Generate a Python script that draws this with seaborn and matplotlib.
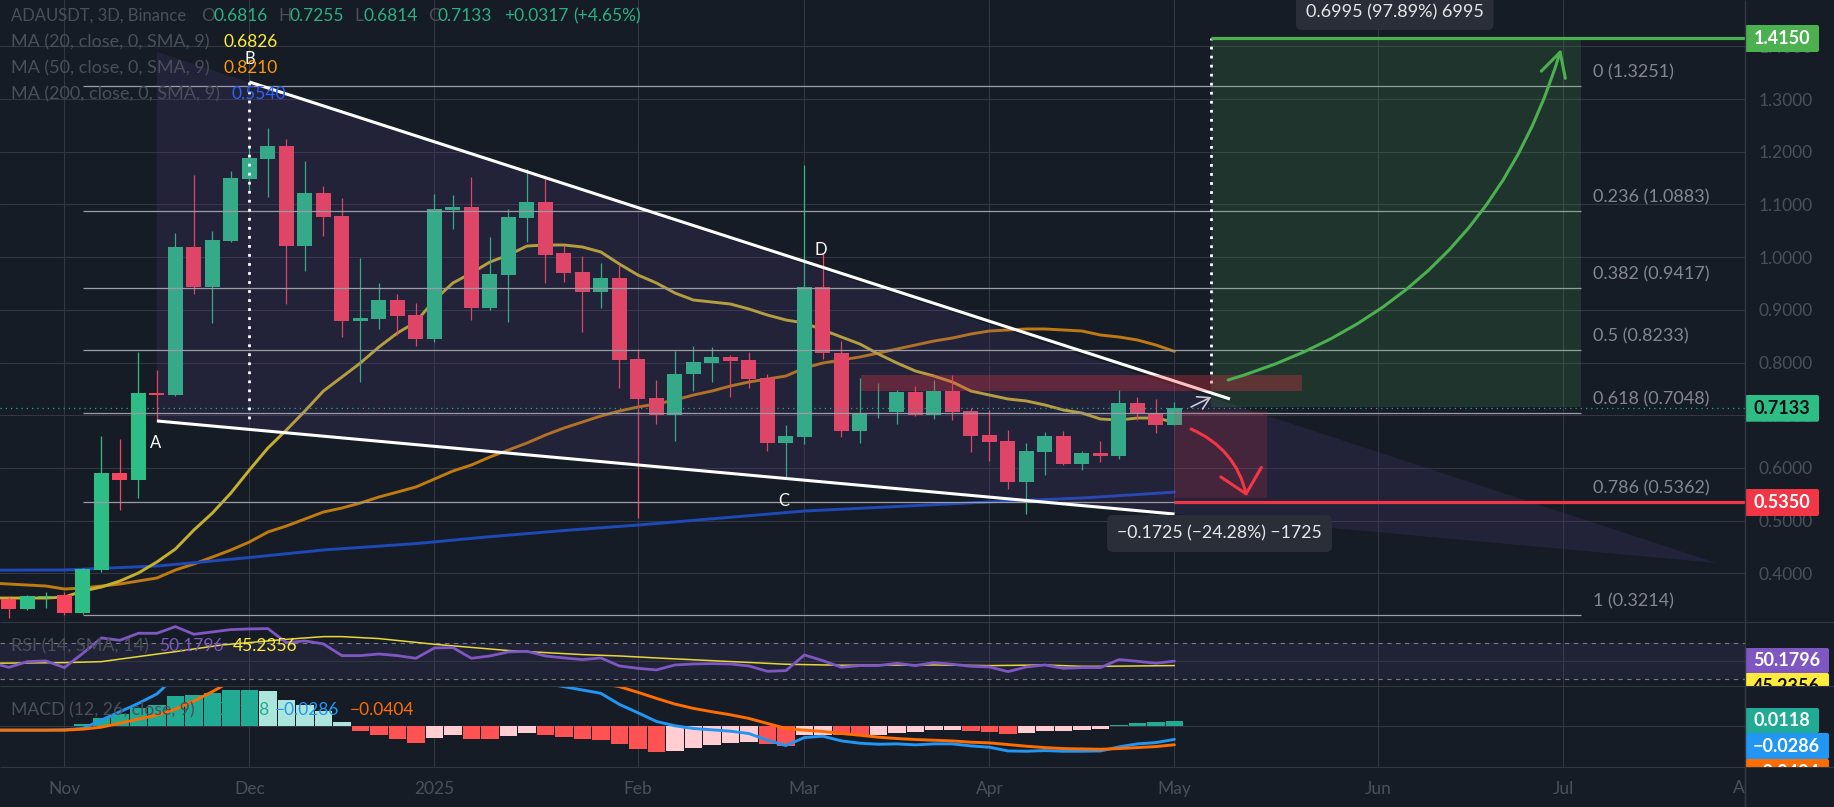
import numpy as np
import pandas as pd
import matplotlib
matplotlib.use("Agg")
import matplotlib.pyplot as plt
from matplotlib.patches import Rectangle, FancyBboxPatch
import seaborn as sns

# Candles, bar 0 is the first 3D bar of November
bars = list(range(-4, 61))
opens = [.3600, .3512, .3322, .3555, .3588, .3247, .4063, .5903, .5770, .7422, .7383,
         1.0192, .9433, 1.0306, 1.1481, 1.1862, 1.2108, 1.0211, 1.1216, 1.0780,
         .8793, .8826, .9186, .8901, .8446, 1.0894, 1.0951, .9034, .9661, 1.0742,
         1.1046, 1.0078, .9717, .9338, .9604, .8067, .7326, .7006, .7782, .7990,
         .8105, .8048, .7706, .6473, .6587, .9433, .8180, .6700, .7023, .7061,
         .7440, .7006, .7459, .7080, .6625, .6511, .5733, .6302, .6606, .6074,
         .6283, .6226, .7232, .7042, .6816]
highs = [.3660, .3556, .3590, .3646, .3645, .4100, .6605, .6548, .8199, .7858, 1.0457,
         1.1558, 1.0495, 1.1634, 1.2089, 1.2450, 1.2241, 1.1824, 1.1349, 1.1122, .9989,
         .9509, .9300, .9129, 1.1197, 1.1178, 1.1520, 1.0382, 1.0913, 1.1666, 1.1539,
         1.0230, 1.0021, .9888, .9850, .8256, .7668, .8218, .8313, .8295, .8143,
         .8199, .7782, .6814, 1.1747, 1.0078, .8408, .7706, .7611, .7478, .7554,
         .7668, .7763, .7137, .7099, .6719, .6473, .6682, .6700, .6321, .6511,
         .7478, .7345, .7308, .7255]
lows = [.3450, .3157, .3304, .3342, .3209, .3235, .4025, .5207, .5429, .6909, .7365,
        .9306, .8755, 1.0287, 1.1273, 1.1141, .9110, .9736, 1.0400, .8489, .7636,
        .8636, .8522, .8313, .8389, 1.0533, .8806, .9000, .8769, 1.0287, .9509,
        .9528, .8579, .9034, .7516, .5049, .6833, .6511, .7459, .7630, .7345,
        .7516, .6321, .5827, .6454, .8067, .6587, .6473, .6947, .6833, .6985,
        .6928, .6909, .6302, .6131, .5606, .5131, .5865, .6055, .5960, .6112,
        .6169, .6909, .6662, .6814]
closes = [.3512, .3322, .3570, .3575, .3247, .4082, .5903, .5770, .7422, .7383, 1.0192,
          .9433, 1.0325, 1.1501, 1.1880, 1.2108, 1.0211, 1.1216, 1.0761, .8788, .8845,
          .9186, .8882, .8446, 1.0913, 1.0951, .9034, .9679, 1.0761, 1.1046, 1.0040,
          .9698, .9338, .9604, .8048, .7308, .7006, .7782, .8010, .8105, .8029,
          .7687, .6473, .6606, .9433, .8180, .6700, .7042, .7042, .7440, .7006,
          .7459, .7061, .6606, .6492, .5733, .6321, .6606, .6074, .6283, .6226,
          .7232, .7023, .6814, .7133]

# Moving averages
ma20 = [.3531, .3531, .3531, .3531, .3550, .3664, .3740, .3854, .4006, .4215, .4461,
        .4822, .5144, .5524, .5960, .6378, .6719, .7080, .7459, .7725, .7991,
        .8294, .8560, .8769, .9186, .9509, .9698, .9907, 1.0040, 1.0210, 1.0230,
        1.0230, 1.0192, 1.0097, .9869, .9660, .9509, .9319, .9186, .9148, .9110,
        .9015, .8901, .8807, .8750, .8617, .8484, .8351, .8161, .7991, .7839,
        .7744, .7630, .7459, .7383, .7308, .7270, .7194, .7099, .7042, .6928,
        .6909, .6947, .6947, .6870]
ma50 = [.3816, .3797, .3778, .3759, .3702, .3721, .3759, .3797, .3854, .3911, .4063,
        .4177, .4309, .4442, .4594, .4784, .4898, .5030, .5163, .5239, .5334,
        .5448, .5542, .5638, .5789, .5941, .6055, .6207, .6340, .6472, .6624,
        .6757, .6871, .6985, .7080, .7156, .7213, .7288, .7383, .7459, .7554,
        .7630, .7687, .7744, .7896, .7991, .8048, .8105, .8180, .8256, .8332,
        .8408, .8465, .8541, .8598, .8617, .8636, .8636, .8617, .8598, .8522,
        .8484, .8427, .8332, .8210]
ma200_bars = [-4, 0, 5, 7, 10, 14, 19, 23, 27, 31, 40, 50, 55, 60]
ma200 = [.4060, .4063, .4139, .4201, .4300, .4443, .4564, .4695, .4812, .4916, .5182, .5354, .5429, .5540]

# RSI pane
rsi = [48.5, 43.3, 49.6, 50.4, 43.0, 58.9, 75.9, 73.3, 81.1, 81.1, 88.5,
       80.0, 82.6, 85.2, 85.9, 86.3, 70.7, 72.6, 69.3, 56.3, 56.3,
       58.1, 56.3, 53.3, 64.8, 65.2, 53.3, 55.9, 60.4, 61.1, 55.9,
       53.7, 51.9, 53.7, 44.8, 42.2, 40.4, 45.9, 47.0, 47.4, 47.0,
       44.8, 38.9, 39.6, 57.0, 50.7, 43.3, 45.2, 45.2, 47.8, 45.2,
       48.5, 46.7, 44.4, 43.7, 38.5, 43.7, 45.9, 42.2, 43.0, 43.0,
       51.9, 50.0, 47.8, 50.18]
rsi_ma_bars = [-4, 0, 2, 4, 6, 8.5, 12, 14, 15, 17, 20, 24, 28, 30, 32, 35, 39, 42, 47, 50, 53, 55, 56, 60]
rsi_ma = [47.8, 48.5, 49.6, 55.2, 60.7, 68.1, 74.4, 77.4, 77.4, 75.2, 68.9, 61.9,
          57.4, 55.9, 53.7, 50.7, 46.7, 45.6, 45.9, 45.2, 45.9, 44.4, 44.4, 45.24]

# MACD pane
hist = [.0012, .0012, .0012, .0012, .0012, .0052, .0178, .0274, .0407, .0474, .0674,
        .0696, .0748, .0807, .0807, .0785, .0585, .0474, .0341, .0096, -.0104,
        -.0193, -.0281, -.0370, -.0259, -.0193, -.0281, -.0281, -.0215, -.0148, -.0193,
        -.0237, -.0281, -.0304, -.0385, -.0504, -.0570, -.0548, -.0481, -.0415, -.0370,
        -.0348, -.0393, -.0437, -.0193, -.0193, -.0193, -.0193, -.0193, -.0148, -.0126,
        -.0081, -.0081, -.0104, -.0126, -.0170, -.0148, -.0104, -.0104, -.0081, -.0059,
        .0030, .0074, .0096, .0118]
hist_state = list("lllll" + "gggggggggg" + "lllll" + "rrrr" + "pp" + "rr" + "pp" + "rrrrrrr"
                  + "ppppp" + "rr" + "pp" + "rr" + "pppp" + "p" + "rrr" + "ppppp" + "gggg")
macd_line = [-.0081, -.0081, -.0081, -.0081, -.0074, -.0044, .0141, .0326, .0511, .0719, .1104,
             .1400, .1650, .1850, .2000, .2100, .2000, .1850, .1700, .1550, .1400,
             .1300, .1200, .1100, .1100, .1150, .1100, .1050, .1050, .1000, .0950,
             .0881, .0807, .0733, .0489, .0304, .0111, .0015, -.0044, -.0074, -.0104,
             -.0156, -.0304, -.0422, -.0244, -.0215, -.0319, -.0370, -.0393, -.0385, -.0407,
             -.0385, -.0385, -.0430, -.0459, -.0541, -.0548, -.0533, -.0548, -.0548, -.0541,
             -.0452, -.0385, -.0356, -.0286]
macd_signal = [-.0081, -.0081, -.0081, -.0081, -.0081, -.0059, -.0015, .0074, .0163, .0252, .0385,
               .0563, .0770, .1000, .1200, .1400, .1500, .1550, .1600, .1550, .1500,
               .1450, .1400, .1350, .1300, .1250, .1200, .1150, .1100, .1050, .1000,
               .1000, .0980, .0950, .0881, .0756, .0622, .0496, .0400, .0326, .0259,
               .0178, .0067, -.0044, -.0081, -.0111, -.0156, -.0193, -.0237, -.0267, -.0289,
               -.0304, -.0319, -.0348, -.0363, -.0400, -.0437, -.0467, -.0489, -.0496, -.0504,
               -.0489, -.0467, -.0444, -.0404]

# Drawings
fib_levels = [0, .236, .382, .5, .618, .786, 1]
fib_prices = [1.3251, 1.0883, .9417, .8233, .7048, .5362, .3214]
wedge_bars = [5, 89.3, 5]
wedge_prices = [1.3892, .4196, .6891]
upper_bars, upper_prices = [10, 63], [1.3323, .7308]
lower_bars, lower_prices = [5, 60], [.6891, .5125]
target_price, stop_price, entry_price = 1.4150, .5350, .7155
price_ticks = [1.4, 1.3, 1.2, 1.1, 1.0, .9, .8, .7, .6, .5, .4]
month_bars = [0, 10, 20, 31, 40, 50, 60, 71, 81]
month_names = ["Nov", "Dec", "2025", "Feb", "Mar", "Apr", "May", "Jun", "Jul"]

BG = "#161C26"
GRID = "#333743"
DIM = "#4B4F5A"
FIB = "#9C9CA6"
UP = "#2EBD85"
DOWN = "#F6465D"
W, H = 1834, 807
RIGHT = 1745

sns.set_theme(style="dark", rc={"axes.facecolor": BG, "figure.facecolor": BG})
plt.rcParams["font.family"] = ["Lato", "DejaVu Sans"]


def pane(top, bottom):
    a = fig.add_axes([0, 1 - bottom / H, RIGHT / W, (bottom - top) / H])
    a.set_xlim(-3.481, 90.84)
    for s in a.spines.values():
        s.set_visible(False)
    a.tick_params(length=0)
    a.set_xticks(month_bars)
    a.set_xticklabels([])
    for m in month_bars:
        a.axvline(m, color=GRID, lw=0.8, zorder=1)
    return a


fig = plt.figure(figsize=(W / 100, H / 100), dpi=100)
ax = pane(0, 622.3)
ax_rsi = pane(622.3, 686.3)
ax_macd = pane(686.3, 767.3)

# Price pane
candles = pd.DataFrame({"bar": bars, "o": opens, "h": highs, "l": lows, "c": closes})
colors = [UP if c >= o else DOWN for o, c in zip(candles.o, candles.c)]
for p in price_ticks:
    ax.axhline(p, color=GRID, lw=0.8, zorder=1)
sns.lineplot(x=bars, y=ma50, ax=ax, color="#C07A12", lw=2.1, zorder=2)
sns.lineplot(x=ma200_bars, y=ma200, ax=ax, color="#2049B8", lw=2.1, zorder=2)
sns.lineplot(x=bars, y=ma20, ax=ax, color="#C4B02E", lw=2.1, zorder=2)
ax.vlines(candles.bar, candles.l, candles.h, colors=colors, lw=0.9, zorder=3)
ax.bar(candles.bar, np.maximum((candles.c - candles.o).abs(), .002), bottom=candles[["o", "c"]].min(axis=1),
       width=.81, color=colors, lw=0, zorder=3)
ax.fill(wedge_bars, wedge_prices, color="#6242A0", alpha=.16, lw=0, zorder=4)
for lev, p in zip(fib_levels, fib_prices):
    ax.hlines(p, 1, 82, color=FIB, lw=0.9, zorder=5)
    ax.annotate(f"{lev} ({p:.4f})", (82.6, p), xytext=(0, 9.8), textcoords="offset points",
                color="#84868F", fontsize=13, va="center")
ax.add_patch(Rectangle((62, entry_price), 20, target_price - entry_price, color="#4CAF50", alpha=.17, lw=0, zorder=5))
ax.add_patch(Rectangle((60, stop_price + .0086), 5, entry_price - .008 - stop_price - .0086,
                       color="#F23645", alpha=.17, lw=0, zorder=5))
ax.add_patch(Rectangle((43.06, .7459), 23.84, .0295, color="#F23645", alpha=.3, lw=0, zorder=7))
ax.plot(upper_bars, upper_prices, color="white", lw=2.2, zorder=6, solid_capstyle="butt")
ax.plot(lower_bars, lower_prices, color="white", lw=2.2, zorder=6, solid_capstyle="butt")
ax.plot([10, 10], [1.3323, .69], color="white", lw=2, ls=(0, (1, 2.25)), zorder=6)
ax.plot([62, 62], [.761, target_price], color="white", lw=2, ls=(0, (1, 2.25)), zorder=6)
ax.hlines(target_price, 62, 91, color="#4CAF50", lw=2.3, zorder=8)
ax.hlines(stop_price, 60, 91, color="#F23645", lw=2.3, zorder=8)
ax.axhline(closes[-1], color="#22AB94", lw=0.9, ls=(0, (1, 3.2)), zorder=5)
ax.annotate("", xy=(80.9, 1.3949), xytext=(62.9, .7668), zorder=9,
            arrowprops=dict(arrowstyle="->,head_length=.85,head_width=.45", color="#4CAF50", lw=2.2,
                            connectionstyle="arc3,rad=.27", shrinkA=0, shrinkB=0, mutation_scale=20))
ax.annotate("", xy=(63.9, .5467), xytext=(60.9, .6738), zorder=9,
            arrowprops=dict(arrowstyle="->,head_length=.8,head_width=.75", color="#F23645", lw=2.2,
                            connectionstyle="arc3,rad=-.25", shrinkA=0, shrinkB=0, mutation_scale=20))
ax.annotate("", xy=(62, .7346), xytext=(60.9, .7156), zorder=9,
            arrowprops=dict(arrowstyle="->,head_length=.6,head_width=.35", color="#C9C9D2", lw=1.2,
                            shrinkA=0, shrinkB=0, mutation_scale=14))
for lab, xb, yp in [("A", 4.95, .6476), ("B", 10, 1.3760), ("C", 38.9, .5378), ("D", 40.9, 1.0135)]:
    ax.text(xb, yp, lab, color="white", fontsize=12, ha="center", va="center", zorder=9)
ax.set_ylim(.30706, 1.48786)
ax.set_yticks(price_ticks)
ax.set_yticklabels([f"{p:.4f}" for p in price_ticks], color=DIM, fontsize=12.5)
ax.yaxis.tick_right()
ax.tick_params(axis="y", pad=9.5)
ax.set_xlabel("")

# RSI pane
ax_rsi.axhspan(30, 70, color="#7E57C2", alpha=.1, lw=0, zorder=1)
ax_rsi.axhline(50, color=GRID, lw=0.8, zorder=1)
for lim in (70, 30):
    ax_rsi.axhline(lim, color="#787B86", lw=0.8, ls=(0, (4, 4)), zorder=2)
sns.lineplot(x=rsi_ma_bars, y=rsi_ma, ax=ax_rsi, color="#E6D83A", lw=1.1, zorder=3)
sns.lineplot(x=bars, y=rsi, ax=ax_rsi, color="#7E57C2", lw=2.0, zorder=3)
ax_rsi.set_ylim(22.2, 93.3)
ax_rsi.set_yticks([])

# MACD pane
hist_colors = {"g": "#22AB94", "l": "#ACE5DC", "r": "#FF5252", "p": "#FFCDD2"}
ax_macd.axhline(0, color=GRID, lw=0.8, zorder=1)
sns.barplot(x=bars, y=hist, hue=hist_state, palette=hist_colors, native_scale=True, dodge=False,
            legend=False, width=.94, saturation=1, lw=0, errorbar=None, ax=ax_macd, zorder=2)
sns.lineplot(x=bars, y=macd_line, ax=ax_macd, color="#2196F3", lw=2.1, zorder=3)
sns.lineplot(x=bars, y=macd_signal, ax=ax_macd, color="#FF6D00", lw=2.1, zorder=3)
ax_macd.set_xlim(-3.481, 90.84)
ax_macd.set_ylim(-.0903, .0889)
ax_macd.set_yticks([])
ax_macd.set_xticks(month_bars)
ax_macd.set_xticklabels(month_names, color=DIM, fontsize=12.5)
ax_macd.tick_params(axis="x", pad=10, length=0)
ax_macd.set_xlabel("")

# Legends, scale tags and separators on a pixel layer
ui = fig.add_axes([0, 0, 1, 1], zorder=10)
ui.set_xlim(0, W)
ui.set_ylim(H, 0)
ui.axis("off")
ui.patch.set_alpha(0)


def label(x, y, s, color=DIM, size=12.5, **kw):
    return ui.text(x, y, s, color=color, fontsize=size, va="center", **kw)


ui.hlines([622.3, 686.3, 767.3], 0, W, color=GRID, lw=0.8)
label(1748, 788, "Aug", ha="center", zorder=0.5)
ui.add_patch(Rectangle((RIGHT, 767.8), W - RIGHT, H - 767.8, color=BG, lw=0, zorder=0.6))
ui.vlines(RIGHT, 0, H, color=GRID, lw=1)

label(11, 16, "ADAUSDT, 3D, Binance", size=12)
for x, s in [(201, "O"), (278, "H"), (354, "L"), (428, "C")]:
    label(x, 16, s)
for x, s in [(213, "0.6816"), (289, "0.7255"), (363, "0.6814"), (438, "0.7133"),
             (504, "+0.0317"), (573, "(+4.65%)")]:
    label(x, 16, s, color="#2BB085")
for y, name, val, col, x in [(42, "MA (20, close, 0, SMA, 9)", "0.6826", "#FFEB3B", 223),
                             (68, "MA (50, close, 0, SMA, 9)", "0.8210", "#FF9800", 223),
                             (94, "MA (200, close, 0, SMA, 9)", "0.5540", "#2962FF", 232)]:
    label(11, y, name, size=13)
    label(x, y, val, color=col)
label(11, 646, "RSI (14, SMA, 14)", size=13)
label(159, 646, "50.1796", color="#7E57C2")
label(233, 646, "45.2356", color="#FFEB3B")
label(11, 710, "MACD (12, 26, close, 9)", size=12.7)
label(215, 710, "0.0118", color="#22AB94")
label(275, 710, "\u22120.0286", color="#2196F3")
label(350, 710, "\u22120.0404", color="#FF6D00")


def tag(y0, y1, x1, s, bg, fg="white", clip=None):
    ui.add_patch(FancyBboxPatch((RIGHT, y0), x1 - RIGHT, y1 - y0, boxstyle="round,pad=0,rounding_size=2",
                                color=bg, lw=0))
    t = ui.text(x1 - 9, (y0 + y1) / 2, s, color=fg, fontsize=13, ha="right", va="center", weight="bold")
    if clip is not None:
        r = Rectangle((RIGHT, y0), x1 - RIGHT, clip - y0, transform=ui.transData)
        t.set_clip_path(r)
        t.set_clip_on(True)
    return t


tag(25, 52, 1819, "1.4150", "#4CAF50")
tag(395, 421.7, 1819, "0.7133", UP, fg="#0B0E14")
tag(489, 516, 1819, "0.5350", "#F23645")
tag(648, 673, 1829, "50.1796", "#7E57C2")
tag(673, 699, 1829, "45.2356", "#FFEB3B", fg="#0B0E14", clip=686.3)
ui.add_patch(Rectangle((RIGHT, 686.3), W - RIGHT, 20, color=BG, lw=0))
ui.vlines(RIGHT, 686, 708, color=GRID, lw=1)
tag(708, 733, 1819, "0.0118", "#22AB94")
tag(733, 759, 1829, "\u22120.0286", "#2196F3")
tag(759, 785, 1829, "\u22120.0404", "#FF6D00", clip=767.3)
ui.add_patch(Rectangle((RIGHT, 767.3), W - RIGHT, H - 767.3, color=BG, lw=0))
ui.vlines(RIGHT, 767, H, color=GRID, lw=1)

ui.add_patch(FancyBboxPatch((1296, -12), 197.6, 42, boxstyle="round,pad=0,rounding_size=6", color="#2A2E39", lw=0))
ui.text(1394.8, 12, "0.6995 (97.89%) 6995", color="#E6E7EA", fontsize=13, ha="center", va="center")
ui.add_patch(FancyBboxPatch((1107, 515), 225, 37, boxstyle="round,pad=0,rounding_size=6", color="#2A2E39", lw=0))
ui.text(1219.5, 533.5, "\u22120.1725 (\u221224.28%) \u22121725", color="#E6E7EA", fontsize=12.7, ha="center", va="center")

fig.savefig("out.png", dpi=100, facecolor=BG)
